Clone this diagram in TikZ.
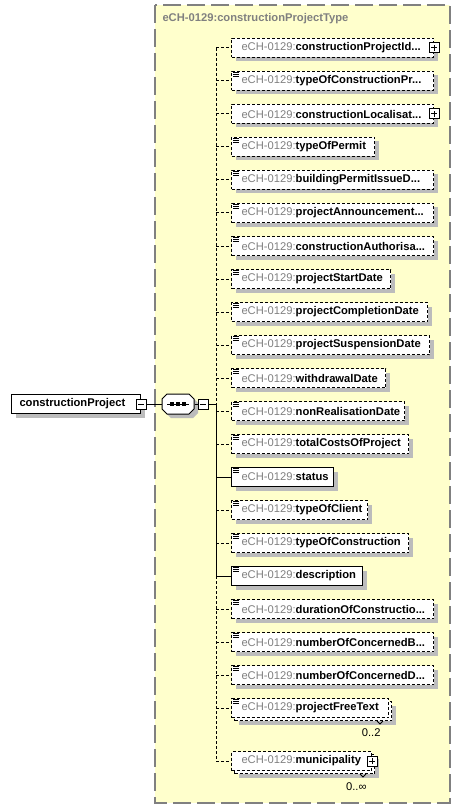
\documentclass[tikz,border=0pt]{standalone}
\usepackage{fontspec}
\setmainfont{Liberation Sans}
\usetikzlibrary{positioning,shadows}

\definecolor{typefill}{RGB}{255,255,204}
\definecolor{typeline}{RGB}{128,128,128}
\definecolor{pfxgray}{RGB}{128,128,128}
\definecolor{shadowgray}{RGB}{188,188,188}

\newcommand{\pfx}{{\color{pfxgray}eCH-0129:}}
\newcommand{\el}[1]{\mbox{\hspace*{7.5pt}\pfx\textbf{#1}}}

\tikzset{
    typebox/.style={fill=typefill, draw=typeline, line width=1pt, dash pattern=on 13.5pt off 4.5pt},
    box/.style={draw, fill=white, minimum height=14.25pt, inner xsep=0pt, inner ysep=0pt, align=left, anchor=west},
    shade/.style={drop shadow={fill=shadowgray, opacity=1, shadow xshift=3pt, shadow yshift=-3pt}},
    optline/.style={dash pattern=on 2.25pt off 1.5pt},
    opt/.style={box, shade, optline},
    req/.style={box, shade},
    multi/.style={box, optline,
        drop shadow={fill=shadowgray, opacity=1, shadow xshift=5.25pt, shadow yshift=-5.25pt},
        general shadow={draw, fill=white, optline, shadow xshift=2.25pt, shadow yshift=-2.25pt}},
    simple/.style={path picture={
        \draw[solid] ([shift={(1.5,1)}]path picture bounding box.north west) -- ++(6,0) ++(-6,2) -- ++(6,0) ++(-6,2) -- ++(6,0);}},
    expander/.style={draw, fill=white, solid, minimum size=7.5pt, inner sep=0pt},
    plus/.style={expander, path picture={
        \draw ([xshift=-2.25pt]path picture bounding box.center) -- ([xshift=2.25pt]path picture bounding box.center);
        \draw ([yshift=-2.25pt]path picture bounding box.center) -- ([yshift=2.25pt]path picture bounding box.center);}},
    minus/.style={expander, path picture={
        \draw ([xshift=-2.25pt]path picture bounding box.center) -- ([xshift=2.25pt]path picture bounding box.center);}},
    seqbox/.style={minimum width=24pt, minimum height=15pt, inner sep=0pt},
    mult/.style={inner sep=0pt, anchor=east},
}

\begin{document}
\begin{tikzpicture}[x=0.75pt, y=-0.75pt, line width=0.75pt, font=\fontsize{8.4}{10}\selectfont]
    \path[fill=white, use as bounding box] (0,0) rectangle (461,809);

    \draw[typebox] (155,5) rectangle (450,803);
    \node[anchor=west, inner sep=0pt, text=pfxgray] (title) at (162,19) {\textbf{eCH-0129:constructionProjectType}};

    \node[req, text width=96.75pt] (cp) at (11,404) {\mbox{\hspace*{6pt}\textbf{constructionProject}}};
    \node[minus] (cpx) at (cp.east) {};
    \node[seqbox] (seq) at (178,404) {};
    \begin{scope}[shift={(seq.center)}]
        \fill[shadowgray] (-12,-1) -- (-7,-6) -- (15,-6) -- (20,-1) -- (20,9) -- (15,14) -- (-7,14) -- (-12,9) -- cycle;
        \draw[fill=white] (-16,-5) -- (-11,-10) -- (11,-10) -- (16,-5) -- (16,5) -- (11,10) -- (-11,10) -- (-16,5) -- cycle;
        \draw (-11,0) -- (11,0);
        \fill (-8,-2) rectangle (-4,2);
        \fill (-2,-2) rectangle (2,2);
        \fill (4,-2) rectangle (8,2);
    \end{scope}
    \node[minus, right=2.25pt of seq] (seqx) {};
    \draw (cpx) -- (seq);
    \draw (seq) -- (seqx);

    \node[opt, text width=151.5pt] (pid) at (231,48) {\el{constructionProjectId...}};
    \node[plus] (pidx) at (pid.east) {};
    \node[opt, simple, text width=151.5pt] (tcp) at (231,81) {\el{typeOfConstructionPr...}};
    \node[opt, text width=151.5pt] (loc) at (231,114) {\el{constructionLocalisat...}};
    \node[plus] (locx) at (loc.east) {};
    \node[opt, simple, text width=107.25pt] (tpe) at (231,147) {\el{typeOfPermit}};
    \node[opt, simple, text width=151.5pt] (bpi) at (231,180) {\el{buildingPermitIssueD...}};
    \node[opt, simple, text width=151.5pt] (pan) at (231,213) {\el{projectAnnouncement...}};
    \node[opt, simple, text width=151.5pt] (cau) at (231,246) {\el{constructionAuthorisa...}};
    \node[opt, simple, text width=119.25pt] (psd) at (231,279) {\el{projectStartDate}};
    \node[opt, simple, text width=147pt] (pcd) at (231,312) {\el{projectCompletionDate}};
    \node[opt, simple, text width=148.5pt] (pss) at (231,345) {\el{projectSuspensionDate}};
    \node[opt, simple, text width=115.5pt] (wdd) at (231,378) {\el{withdrawalDate}};
    \node[opt, simple, text width=129.75pt] (nrd) at (231,411) {\el{nonRealisationDate}};
    \node[opt, simple, text width=132.75pt] (tco) at (231,444) {\el{totalCostsOfProject}};
    \node[req, simple, text width=76.5pt] (sta) at (231,477) {\el{status}};
    \node[opt, simple, text width=102pt] (tcl) at (231,510) {\el{typeOfClient}};
    \node[opt, simple, text width=132.75pt] (tcn) at (231,543) {\el{typeOfConstruction}};
    \node[req, simple, text width=98.25pt] (des) at (231,576) {\el{description}};
    \node[opt, simple, text width=151.5pt] (doc) at (231,609) {\el{durationOfConstructio...}};
    \node[opt, simple, text width=151.5pt] (ncb) at (231,642) {\el{numberOfConcernedB...}};
    \node[opt, simple, text width=151.5pt] (ncd) at (231,675) {\el{numberOfConcernedD...}};
    \node[multi, simple, text width=117.75pt] (pft) at (231,708) {\el{projectFreeText}};
    \draw ([shift={(-12,3)}]pft.south east) -- ++(3,3) -- ++(3,-3);
    \node[mult] (pftm) at ([shift={(-8,15)}]pft.south east) {0..2};
    \node[multi, text width=105pt] (mun) at (231,761) {\el{municipality}};
    \draw ([shift={(-12,3)}]mun.south east) -- ++(3,3) -- ++(3,-3);
    \node[plus] (munx) at (mun.east) {};
    \node[mult] (munm) at ([shift={(-5,15.5)}]mun.south east) {0..∞};

    % sequence trunk
    \coordinate (ttop) at (216,48);
    \coordinate (tseq) at (216,404);
    \coordinate (tdes) at (216,576);
    \coordinate (tbot) at (216,761);
    \draw (seqx) -- (tseq);
    \draw[optline] (ttop) -- (tseq);
    \draw (tseq) -- (tdes);
    \draw[optline] (tdes) -- (tbot);

    \draw[optline] (tseq |- pid.west) -- (pid.west);
    \draw[optline] (tseq |- tcp.west) -- (tcp.west);
    \draw[optline] (tseq |- loc.west) -- (loc.west);
    \draw[optline] (tseq |- tpe.west) -- (tpe.west);
    \draw[optline] (tseq |- bpi.west) -- (bpi.west);
    \draw[optline] (tseq |- pan.west) -- (pan.west);
    \draw[optline] (tseq |- cau.west) -- (cau.west);
    \draw[optline] (tseq |- psd.west) -- (psd.west);
    \draw[optline] (tseq |- pcd.west) -- (pcd.west);
    \draw[optline] (tseq |- pss.west) -- (pss.west);
    \draw[optline] (tseq |- wdd.west) -- (wdd.west);
    \draw[optline] (tseq |- nrd.west) -- (nrd.west);
    \draw[optline] (tseq |- tco.west) -- (tco.west);
    \draw (tseq |- sta.west) -- (sta.west);
    \draw[optline] (tseq |- tcl.west) -- (tcl.west);
    \draw[optline] (tseq |- tcn.west) -- (tcn.west);
    \draw (tseq |- des.west) -- (des.west);
    \draw[optline] (tseq |- doc.west) -- (doc.west);
    \draw[optline] (tseq |- ncb.west) -- (ncb.west);
    \draw[optline] (tseq |- ncd.west) -- (ncd.west);
    \draw[optline] (tseq |- pft.west) -- (pft.west);
    \draw[optline] (tseq |- mun.west) -- (mun.west);
\end{tikzpicture}
\end{document}
